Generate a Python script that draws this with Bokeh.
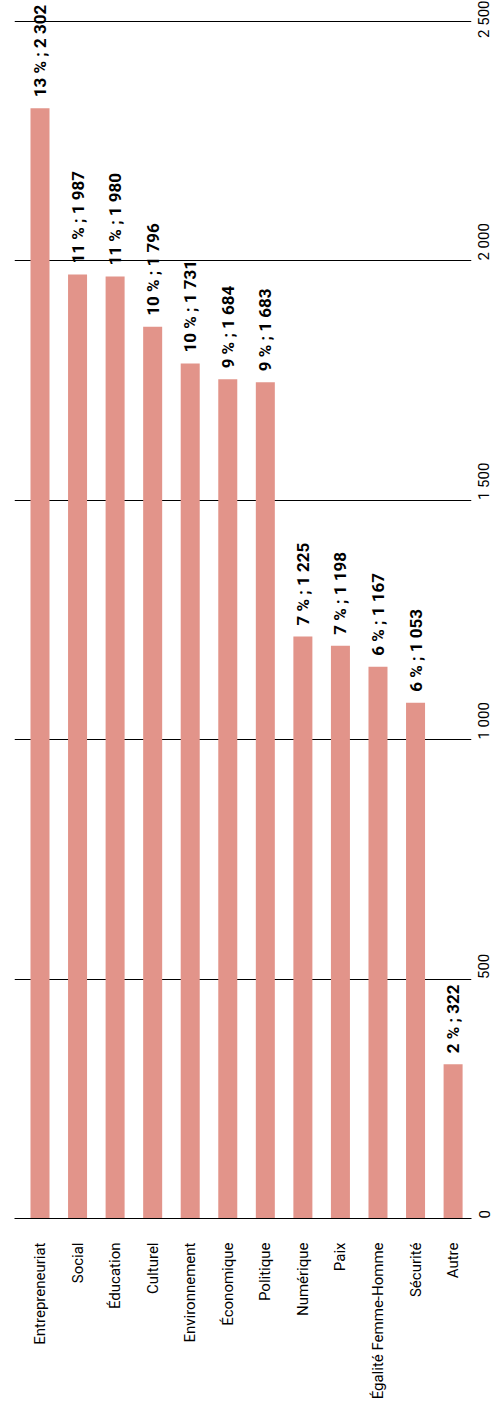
import math
from bokeh.plotting import figure
from bokeh.models import Range1d, FixedTicker, ColumnDataSource, LabelSet
from bokeh.core.properties import value
from bokeh.embed import file_html
from bokeh.resources import INLINE

categories = ["Entrepreneuriat", "Social", "Éducation", "Culturel", "Environnement",
              "Économique", "Politique", "Numérique", "Paix", "Égalité Femme-Homme",
              "Sécurité", "Autre"]
values = [2318, 1971, 1967, 1862, 1785, 1752, 1746, 1215, 1196, 1152, 1077, 322]
labels = ["13 % ; 2 302", "11 % ; 1 987", "11 % ; 1 980", "10 % ; 1 796", "10 % ; 1 731",
          "9 % ; 1 684", "9 % ; 1 683", "7 % ; 1 225", "7 % ; 1 198", "6 % ; 1 167",
          "6 % ; 1 053", "2 % ; 322"]
y_ticks = [0, 500, 1000, 1500, 2000, 2500]
y_tick_labels = ["0", "500", "1 000", "1 500", "2 000", "2 500"]

FONT = "Roboto"
BAR = "#e2948a"

idx = list(range(len(categories)))
src = ColumnDataSource(dict(x=idx, top=values, label=labels))

p = figure(frame_width=457, frame_height=1218,
           x_range=Range1d(-0.679, 11.49), y_range=Range1d(0, 2543),
           y_axis_location="right", output_backend="svg", toolbar_location=None,
           min_border_left=14, min_border_top=0, min_border_right=0, min_border_bottom=0)

p.vbar(x="x", top="top", bottom=0, width=0.506, source=src, fill_color=BAR, line_color=None)

ls = LabelSet(x="x", y="top", text="label", source=src, angle=math.pi / 2,
              text_align="left", text_baseline="middle", y_offset=11,
              text_font=value(FONT), text_font_style="bold", text_font_size="17px",
              text_color="black")
p.add_layout(ls)

p.xgrid.visible = False
p.ygrid.ticker = FixedTicker(ticks=y_ticks)
p.ygrid.grid_line_color = "black"
p.ygrid.grid_line_width = 1
p.outline_line_color = None

xa = p.xaxis[0]
xa.ticker = FixedTicker(ticks=idx)
xa.major_label_overrides = {i: c for i, c in zip(idx, categories)}
xa.major_label_orientation = math.pi / 2
xa.major_label_text_font = FONT
xa.major_label_text_font_size = "15px"
xa.major_label_text_color = "black"
xa.major_tick_out = 0
xa.major_tick_in = 0
xa.minor_tick_out = 0
xa.minor_tick_in = 0
xa.axis_line_color = "black"
xa.major_label_standoff = 24

ya = p.yaxis[0]
ya.ticker = FixedTicker(ticks=y_ticks)
ya.major_label_overrides = {t: s for t, s in zip(y_ticks, y_tick_labels)}
ya.major_label_orientation = math.pi / 2
ya.major_label_text_font = FONT
ya.major_label_text_font_size = "15px"
ya.major_label_text_color = "black"
ya.major_tick_out = 0
ya.major_tick_in = 0
ya.minor_tick_out = 0
ya.minor_tick_in = 0
ya.axis_line_color = None
ya.major_label_standoff = 13

open("out.html", "w").write(file_html(p, INLINE))
